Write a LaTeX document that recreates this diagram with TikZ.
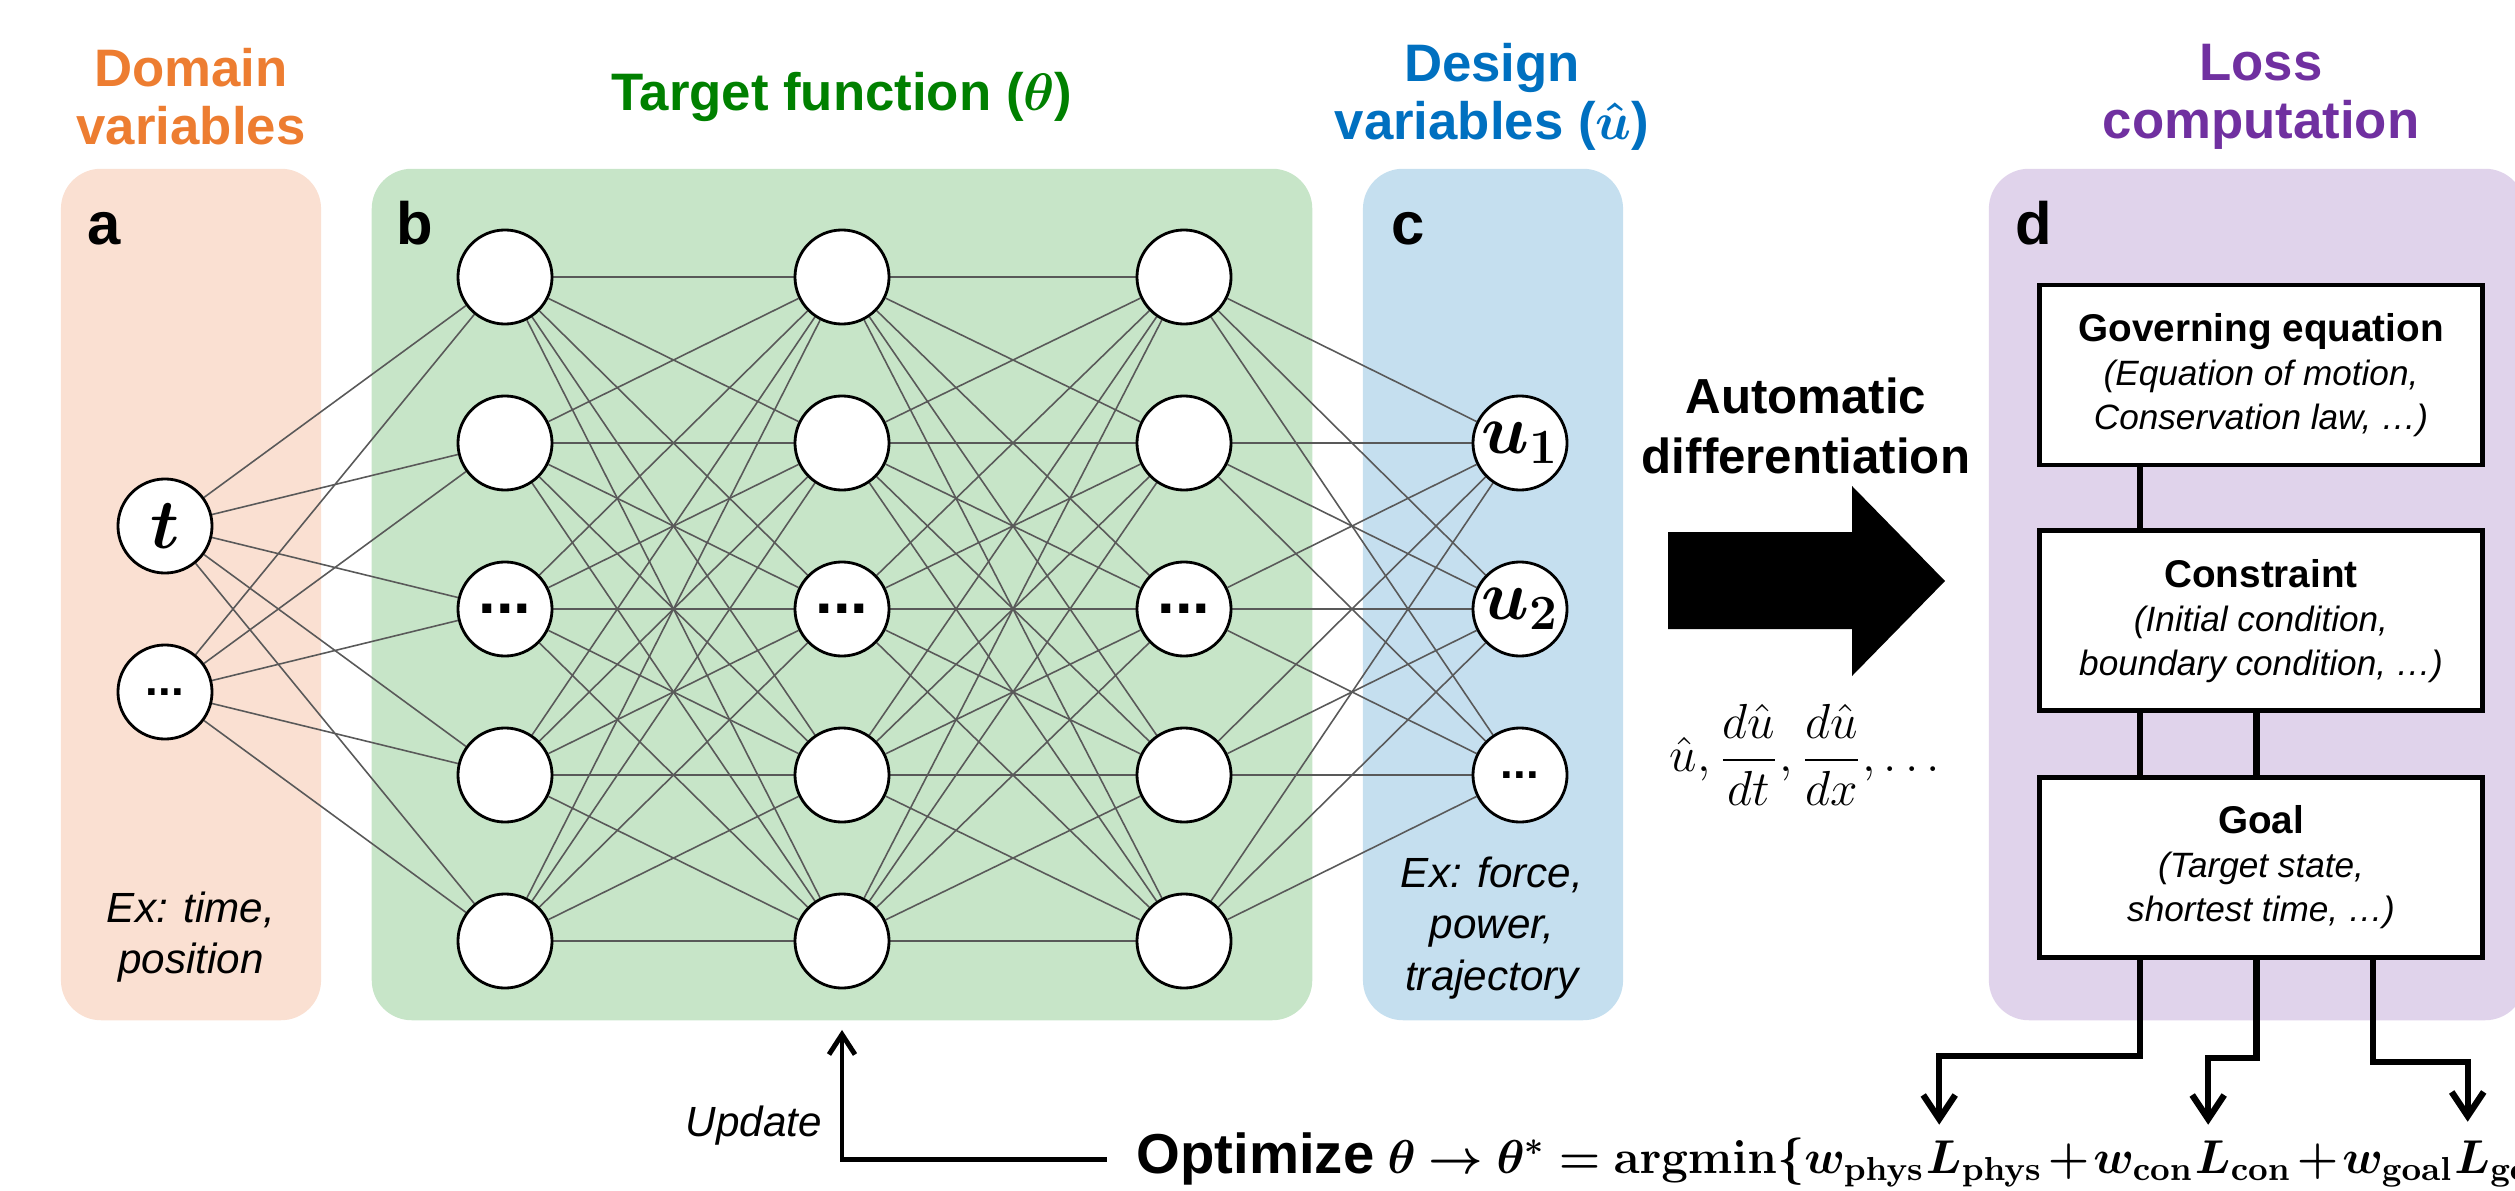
\RequirePackage{fix-cm}
\documentclass[tikz,border=0pt]{standalone}
\usepackage[no-math]{fontspec}
\setmainfont{Liberation Sans}
\usepackage{amsmath}
\usepackage{bm}
\usetikzlibrary{positioning,arrows.meta,calc}
\pgfdeclarelayer{panels}
\pgfdeclarelayer{wires}
\pgfsetlayers{panels,wires,main}
\definecolor{domainfill}{RGB}{250,224,210}
\definecolor{targetfill}{RGB}{199,229,200}
\definecolor{designfill}{RGB}{197,223,239}
\definecolor{lossfill}{RGB}{224,211,235}
\definecolor{domaintxt}{RGB}{237,125,49}
\definecolor{targettxt}{RGB}{0,128,0}
\definecolor{designtxt}{RGB}{0,112,192}
\definecolor{losstxt}{RGB}{112,48,160}
\newcommand{\bigdots}{{\fontsize{18}{18}\selectfont\bfseries ...}}
\newcommand{\smalldots}{{\fontsize{13}{13}\selectfont\bfseries ...}}
\newcommand{\boxhead}[1]{{\upshape\bfseries\fontsize{11}{12.5}\selectfont #1}}
\tikzstyle{panel} = [
rectangle,
rounded corners=0.4cm,
inner sep=0
]
\tikzstyle{title} = [
font=\fontsize{15}{16.5}\selectfont\bfseries,
align=center
]
\tikzstyle{letter} = [
font=\fontsize{17}{17}\selectfont\bfseries,
anchor=base west,
inner sep=0
]
\tikzstyle{neuron} = [
circle,
draw=black,
line width=0.8pt,
fill=white,
minimum size=0.94cm,
inner sep=0,
font=\fontsize{20}{20}\selectfont
]
\tikzstyle{wire} = [
draw=black!65,
line width=0.45pt
]
\tikzstyle{note} = [
font=\fontsize{12}{14.7}\selectfont\itshape,
align=center
]
\tikzstyle{lossbox} = [
rectangle,
draw=black,
line width=1.3pt,
fill=white,
minimum width=4.43cm,
minimum height=1.8cm,
align=center,
font=\fontsize{10}{12.5}\selectfont\itshape
]
\tikzstyle{link} = [
line width=1.8pt
]
\tikzstyle{lossarrow} = [
line width=1.8pt,
shorten >=0.15cm,
-{Straight Barb[length=2.4mm,width=3.2mm]}
]
\tikzstyle{updarrow} = [
line width=1.4pt,
shorten >=0.09cm,
-{Straight Barb[length=2mm,width=2.6mm]}
]
\tikzstyle{formula} = [
inner sep=0,
anchor=base west,
font=\fontsize{13.5}{16}\selectfont,
execute at begin node={\medmuskip=1.5mu}
]
\begin{document}
\begin{tikzpicture}[x=0.01cm,y=-0.01cm]
\useasboundingbox (0,0) rectangle (2515,1191);
%Panels
\begin{pgfonlayer}{panels}
\node[panel,fill=domainfill,minimum width=2.60cm,minimum height=8.51cm] (pnla) at (191,594.5) {};
\node[panel,fill=targetfill,minimum width=9.40cm,minimum height=8.51cm] (pnlb) at (842,594.5) {};
\node[panel,fill=designfill,minimum width=2.60cm,minimum height=8.51cm] (pnlc) at (1493,594.5) {};
\node[panel,fill=lossfill,minimum width=5.36cm,minimum height=8.51cm] (pnld) at (2257,594.5) {};
\end{pgfonlayer}
%Titles
\node[title,text=domaintxt] (tdomain) at (191,97) {Domain\\variables};
\node[title,text=targettxt] (ttarget) at (842,97) {Target function ($\bm{\theta}$)};
\node[title,text=designtxt] (tdesign) at (1492,97) {Design\\variables ($\bm{\hat{u}}$)};
\node[title,text=losstxt] (tloss) at (2261,97) {Loss\\computation};
\node[letter] (la) at ([shift={(0.27cm,-0.76cm)}]pnla.north west) {a};
\node[letter] (lb) at ([shift={(0.25cm,-0.76cm)}]pnlb.north west) {b};
\node[letter] (lc) at ([shift={(0.29cm,-0.76cm)}]pnlc.north west) {c};
\node[letter] (ld) at ([shift={(0.27cm,-0.76cm)}]pnld.north west) {d};
%Neurons
\node[neuron] (in1) at (165,526) {$\bm{t}$};
\node[neuron] (in2) at (165,692) {\smalldots};
\foreach \l/\x in {1/505,2/842,3/1184}
  \foreach \y [count=\r] in {277,443,609,775,941}
    \node[neuron] (h\l-\r) at (\x,\y) {\ifnum\r=3 \bigdots\fi};
\node[neuron] (out1) at (1520,443) {$\bm{u_1}$};
\node[neuron] (out2) at (1520,609) {$\bm{u_2}$};
\node[neuron] (out3) at (1520,775) {\smalldots};
%Weights
\begin{pgfonlayer}{wires}
\foreach \i in {1,2}
  \foreach \j in {1,...,5}
    \draw[wire] (in\i) -- (h1-\j);
\foreach \l/\m in {1/2,2/3}
  \foreach \i in {1,...,5}
    \foreach \j in {1,...,5}
      \draw[wire] (h\l-\i) -- (h\m-\j);
\foreach \i in {1,...,5}
  \foreach \j in {1,2,3}
    \draw[wire] (h3-\i) -- (out\j);
\end{pgfonlayer}
\node[note] (exa) at (191,937) {Ex: time,\\position};
\node[note] (exc) at (1492,928) {Ex: force,\\power,\\trajectory};
%Automatic differentiation
\node[font=\fontsize{14}{17}\selectfont\bfseries,align=center] (autodiff) at (1806,426) {Automatic\\differentiation};
\fill[black] (1668,532) -- (1852,532) -- (1852,486) -- (1945,581) -- (1852,676) -- (1852,629) -- (1668,629) -- cycle;
\node[font=\fontsize{14}{17}\selectfont] (deriv) at (1809,755) {$\hat{u},\dfrac{d\hat{u}}{dt},\dfrac{d\hat{u}}{dx},\dots$};
%Loss terms
\node[lossbox] (gov) at (2261,375) {\boxhead{Governing equation}\\(Equation of motion,\\Conservation law, …)};
\node[lossbox,below=0.61cm of gov] (con) {\boxhead{Constraint}\\(Initial condition,\\boundary condition, …)};
\node[lossbox,below=0.62cm of con] (goal) {\boxhead{Goal}\\(Target state,\\shortest time, …)};
%Objective
\node[formula] (opt) at (1136,1173) {{\fontsize{16}{17}\selectfont\bfseries Optimize} $\bm{\theta}\bm{\rightarrow}\bm{\theta}^{\bm{*}}\bm{=}\mathbf{argmin}\bm{\{}\bm{w}_{\mathbf{phys}}$};
\node[formula] (lphys) at (opt.base east) {$\bm{L}_{\mathbf{phys}}$};
\node[formula] (wcon) at (lphys.base east) {${}\bm{+}\bm{w}_{\mathbf{con}}$};
\node[formula] (lcon) at (wcon.base east) {$\bm{L}_{\mathbf{con}}$};
\node[formula] (wgoal) at (lcon.base east) {${}\bm{+}\bm{w}_{\mathbf{goal}}$};
\node[formula] (lgoal) at (wgoal.base east) {$\bm{L}_{\mathbf{goal}}\bm{\}}$};
\node[note] (upd) at (754,1126) {Update};
%Arrows
\draw[link] ($(gov.south west)!0.23!(gov.south east)$) -- ($(con.north west)!0.23!(con.north east)$);
\draw[link] ($(con.south west)!0.23!(con.south east)$) -- ($(goal.north west)!0.23!(goal.north east)$);
\draw[link] ($(con.south west)!0.49!(con.south east)$) -- ($(goal.north west)!0.49!(goal.north east)$);
\draw[lossarrow] ($(goal.south west)!0.23!(goal.south east)$) -- ++(0,96) -| ([xshift=0.14cm]lphys.north west);
\draw[lossarrow] ($(goal.south west)!0.49!(goal.south east)$) -- ++(0,98) -| ([xshift=0.14cm]lcon.north west);
\draw[lossarrow] ($(goal.south west)!0.75!(goal.south east)$) -- ++(0,102) -| ([xshift=0.14cm]lgoal.north west);
\draw[updarrow] ([xshift=-0.29cm]opt.west) -| (pnlb.south);
\end{tikzpicture}
\end{document}
